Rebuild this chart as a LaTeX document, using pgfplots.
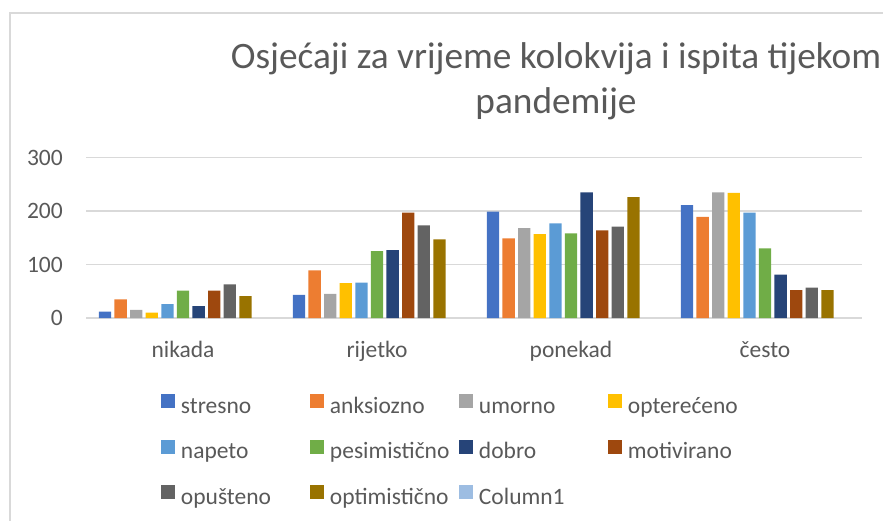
\documentclass[border=0pt]{standalone}
\usepackage{fontspec}
\setmainfont{Carlito}
\usepackage{pgfplots}
\pgfplotsset{compat=1.18}
\definecolor{c1}{HTML}{4472C4}
\definecolor{c2}{HTML}{ED7D31}
\definecolor{c3}{HTML}{A5A5A5}
\definecolor{c4}{HTML}{FFC000}
\definecolor{c5}{HTML}{5B9BD5}
\definecolor{c6}{HTML}{70AD47}
\definecolor{c7}{HTML}{264478}
\definecolor{c8}{HTML}{9E480E}
\definecolor{c9}{HTML}{636363}
\definecolor{c10}{HTML}{997300}
\definecolor{c11}{HTML}{9DBDE2}
\definecolor{txt}{HTML}{595959}
\definecolor{gridc}{HTML}{D9D9D9}
\newcommand{\legtxt}[1]{\makebox[129pt][l]{#1}}
\begin{document}
\begin{tikzpicture}
\useasboundingbox (0,0) rectangle (883pt,520pt);
\draw[gridc, line width=1.2pt] (10pt,-5pt) -- (10pt,507pt) -- (890pt,507pt);
\begin{axis}[
 at={(86pt,202pt)}, anchor=south west,
 scale only axis, width=776pt, height=160.5pt,
 ymin=0, ymax=300, xmin=-0.5, xmax=3.5,
 ytick={0,100,200,300}, xtick={0,1,2,3},
 xticklabels={nikada,rijetko,ponekad,često},
 ymajorgrids, grid style={gridc, line width=1.5pt},
 axis line style={draw=none}, major tick length=0pt,
 tick label style={font=\fontsize{23.5}{28}\selectfont, text=txt},
 /pgf/number format/assume math mode=true,
 yticklabel style={anchor=east, inner sep=0pt, xshift=-23pt},
 xticklabel style={anchor=base, inner sep=0pt, yshift=-39pt},
 ybar, bar width=12.3pt,
 title={Osjećaji za vrijeme kolokvija i ispita tijekom\\pandemije},
 title style={at={(axis description cs:0.6057,1.236)}, anchor=base, align=center, font=\fontsize{37.3}{45}\selectfont, text=txt, inner sep=0pt},
 legend columns=4,
 legend style={draw=none, fill=none, at={(axis description cs:0.0966,-0.474)}, anchor=north west, inner sep=0pt, outer sep=0pt, font=\fontsize{23.5}{28}\selectfont, text=txt, row sep=20.5pt, nodes={inner sep=0pt, text height=16pt, text depth=6pt}, /tikz/every odd column/.append style={column sep=6pt}},
 legend cell align=left,
 legend image code/.code={\fill[#1] (0pt,0pt) rectangle (14pt,14pt);},
]
\addplot[fill=c1, draw=none, bar shift=-78pt] coordinates {(0,12) (1,43) (2,199) (3,211)};
\addlegendentry{\legtxt{stresno}}
\addplot[fill=c2, draw=none, bar shift=-62.4pt] coordinates {(0,35) (1,89) (2,149) (3,189)};
\addlegendentry{\legtxt{anksiozno}}
\addplot[fill=c3, draw=none, bar shift=-46.8pt] coordinates {(0,15) (1,45) (2,168) (3,235)};
\addlegendentry{\legtxt{umorno}}
\addplot[fill=c4, draw=none, bar shift=-31.2pt] coordinates {(0,10) (1,65) (2,157) (3,234)};
\addlegendentry{\legtxt{opterećeno}}
\addplot[fill=c5, draw=none, bar shift=-15.6pt] coordinates {(0,26) (1,66) (2,177) (3,197)};
\addlegendentry{\legtxt{napeto}}
\addplot[fill=c6, draw=none, bar shift=0pt] coordinates {(0,51) (1,125) (2,158) (3,130)};
\addlegendentry{\legtxt{pesimistično}}
\addplot[fill=c7, draw=none, bar shift=15.6pt] coordinates {(0,22) (1,127) (2,235) (3,81)};
\addlegendentry{\legtxt{dobro}}
\addplot[fill=c8, draw=none, bar shift=31.2pt] coordinates {(0,51) (1,197) (2,164) (3,52)};
\addlegendentry{\legtxt{motivirano}}
\addplot[fill=c9, draw=none, bar shift=46.8pt] coordinates {(0,63) (1,173) (2,171) (3,57)};
\addlegendentry{\legtxt{opušteno}}
\addplot[fill=c10, draw=none, bar shift=62.4pt] coordinates {(0,41) (1,147) (2,226) (3,52)};
\addlegendentry{\legtxt{optimistično}}
\addlegendimage{fill=c11, draw=none}
\addlegendentry{\legtxt{Column1}}
\end{axis}
\end{tikzpicture}
\end{document}
